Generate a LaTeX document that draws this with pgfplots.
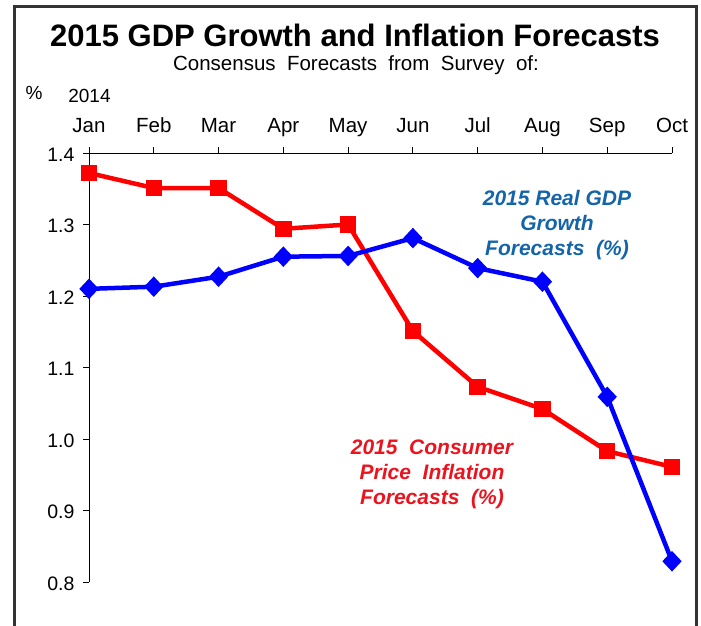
\documentclass[border=0pt]{standalone}
\usepackage{pgfplots}
\pgfplotsset{compat=1.18}
\usepackage{fontspec}
\setmainfont{Liberation Sans}
\definecolor{gdpblue}{RGB}{0,0,255}
\definecolor{cpired}{RGB}{255,0,0}
\definecolor{annblue}{RGB}{20,100,170}
\definecolor{annred}{RGB}{235,20,30}
\begin{document}
\begin{tikzpicture}[x=1pt,y=1pt]
\path[use as bounding box] (0,0) rectangle (701,625);
\draw[line width=3pt, black!80] (14.5,-3) -- (14.5,618.5) -- (696.5,618.5) -- (696.5,-3);
\node[anchor=base] at (355,578) {\fontsize{31}{36}\selectfont\bfseries 2015 GDP Growth and Inflation Forecasts};
\node[anchor=base] at (356,554) {\fontsize{20.5}{24}\selectfont Consensus\ \ Forecasts\ \ from\ \ Survey\ \ of:};
\node[anchor=base] at (34,525) {\fontsize{19}{22}\selectfont \%};
\node[anchor=base] at (89.5,522) {\fontsize{19}{22}\selectfont 2014};
\begin{axis}[
  at={(89pt,43pt)}, anchor=south west,
  scale only axis, width=583pt, height=429pt,
  xmin=0, xmax=9, ymin=0.8, ymax=1.4,
  axis x line*=top, axis y line*=left,
  axis line style={line width=1pt, black},
  tick align=outside, major tick length=6pt,
  tick style={line width=0.9pt, black},
  xtick={0,1,2,3,4,5,6,7,8,9},
  xticklabels={Jan,Feb,Mar,Apr,May,Jun,Jul,Aug,Sep,Oct},
  ytick={0.8,0.9,1.0,1.1,1.2,1.3,1.4},
  yticklabel style={font=\fontsize{19.5}{22}\selectfont, xshift=-5pt, yshift=-1.5pt,
    /pgf/number format/.cd, fixed, fixed zerofill, precision=1, assume math mode=true},
  xticklabel style={font=\fontsize{20.5}{24}\selectfont, anchor=base, yshift=15pt},
  clip=false,
]
\addplot[color=cpired, line width=4.5pt, mark=square*, mark size=6pt, mark options={draw=none, fill=cpired}]
  coordinates {(0,1.372) (1,1.351) (2,1.351) (3,1.294) (4,1.300) (5,1.151) (6,1.073) (7,1.042) (8,0.983) (9,0.961)};
\addplot[color=gdpblue, line width=4.5pt, mark=diamond*, mark size=7pt, mark options={draw=none, fill=gdpblue, xscale=1.25}]
  coordinates {(0,1.210) (1,1.213) (2,1.227) (3,1.255) (4,1.256) (5,1.281) (6,1.239) (7,1.220) (8,1.059) (9,0.829)};
\end{axis}
\node[anchor=base, text=annblue] at (557,420) {\fontsize{21}{24}\selectfont\bfseries\itshape 2015\ Real\ GDP};
\node[anchor=base, text=annblue] at (557,395) {\fontsize{21}{24}\selectfont\bfseries\itshape Growth};
\node[anchor=base, text=annblue] at (557,370) {\fontsize{21}{24}\selectfont\bfseries\itshape Forecasts\ \ (\%)};
\node[anchor=base, text=annred] at (432,171) {\fontsize{21}{24}\selectfont\bfseries\itshape 2015\ \ Consumer};
\node[anchor=base, text=annred] at (432,146) {\fontsize{21}{24}\selectfont\bfseries\itshape Price\ \ Inflation};
\node[anchor=base, text=annred] at (432,121) {\fontsize{21}{24}\selectfont\bfseries\itshape Forecasts\ \ (\%)};
\end{tikzpicture}
\end{document}
